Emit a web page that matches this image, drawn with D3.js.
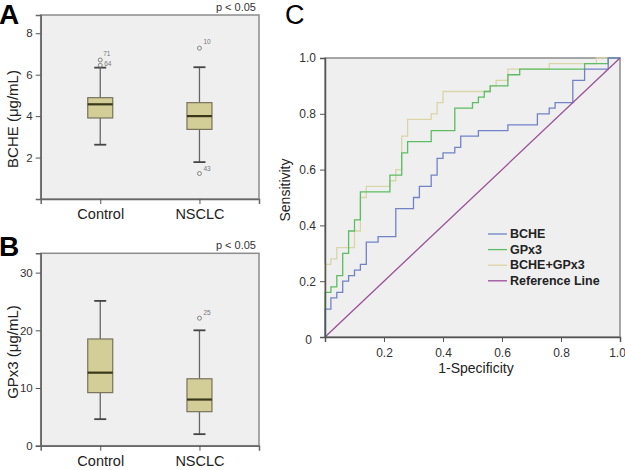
<!DOCTYPE html>
<html><head><meta charset="utf-8">
<script src="https://cdn.jsdelivr.net/npm/d3@7"></script>
<style>body{margin:0;background:#fff} svg{display:block;font-family:"Liberation Sans",Arial,sans-serif}</style>
</head><body><svg id="c" width="625" height="470"></svg>
<script>
// ---------- data ----------
const groups = ["Control", "NSCLC"];
// box stats: [lower whisker, Q1, median, Q3, upper whisker]
const bcheControl = [2.62, 3.91, 4.57, 4.89, 6.34];
const bcheNSCLC   = [1.78, 3.36, 4.00, 4.65, 6.36];
const bcheOutliers = [["Control", 6.71, "71"], ["Control", 6.45, "64"], ["NSCLC", 7.28, "10"], ["NSCLC", 1.23, "43"]];
const bcheTicks = [2, 4, 6, 8];

const gpx3Control = [4.6, 9.2, 12.66, 18.5, 25.1];
const gpx3NSCLC   = [2.0, 5.9, 8.0, 11.6, 20.0];
const gpx3Outliers = [["NSCLC", 22.1, "25"]];
const gpx3Ticks = [0, 10, 20, 30];

// ROC step points (1-specificity, sensitivity)
const rocBcheX = [0, 0, 0.02, 0.04, 0.06, 0.08, 0.10, 0.12, 0.14, 0.18, 0.24, 0.30, 0.32, 0.36, 0.38, 0.40, 0.44, 0.46, 0.52, 0.62, 0.72, 0.76, 0.78, 0.84, 0.88, 0.96, 1];
const rocBcheY = [0, 0.10, 0.14, 0.16, 0.20, 0.22, 0.24, 0.26, 0.34, 0.36, 0.46, 0.50, 0.54, 0.58, 0.64, 0.66, 0.68, 0.72, 0.74, 0.76, 0.80, 0.82, 0.84, 0.92, 0.96, 1.0, 1];
const rocGpxX = [0, 0, 0.02, 0.04, 0.06, 0.08, 0.10, 0.12, 0.22, 0.26, 0.28, 0.36, 0.44, 0.50, 0.52, 0.54, 0.56, 0.62, 0.66, 0.88, 0.96, 1];
const rocGpxY = [0, 0.16, 0.18, 0.22, 0.30, 0.38, 0.42, 0.52, 0.58, 0.66, 0.70, 0.74, 0.82, 0.84, 0.86, 0.88, 0.90, 0.94, 0.96, 0.98, 1.0, 1];
const rocBothX = [0, 0, 0.02, 0.04, 0.10, 0.12, 0.14, 0.22, 0.24, 0.26, 0.28, 0.36, 0.38, 0.40, 0.56, 0.58, 0.62, 0.76, 0.92, 1];
const rocBothY = [0, 0.26, 0.28, 0.32, 0.38, 0.50, 0.54, 0.56, 0.60, 0.72, 0.78, 0.80, 0.84, 0.88, 0.90, 0.92, 0.96, 0.98, 1.0, 1];
const refX = [0, 1];
const refY = [0, 1];
const rocTicks = [0, 0.2, 0.4, 0.6, 0.8, 1.0];
const legendLabels = ["BCHE", "GPx3", "BCHE+GPx3", "Reference Line"];
const legendColors = ["#7282c8", "#5cbd62", "#d9d5a6", "#9a4f98"];

// ---------- drawing ----------
const svg = d3.select("#c");
const BG = "#efefef", FRAME = "#8c8c8c";

function boxPanel(p) {
  const g = svg.append("g");
  const x = d3.scalePoint().domain(groups).range([p.x0, p.x1]).padding(0.6);
  const y = d3.scaleLinear().domain([0, p.ymax]).range([p.y1, p.y0]);
  g.append("rect").attr("x", p.x0).attr("y", p.y0).attr("width", p.x1 - p.x0).attr("height", p.y1 - p.y0)
    .attr("fill", BG).attr("stroke", FRAME).attr("stroke-width", 1.5);
  const ya = g.append("g").attr("transform", `translate(${p.x0},0)`)
    .call(d3.axisLeft(y).tickValues(p.ticks).tickSize(5).tickPadding(3).tickFormat(d3.format("d")));
  const xa = g.append("g").attr("transform", `translate(0,${p.y1})`)
    .call(d3.axisBottom(x).tickSize(5).tickPadding(5));
  [ya, xa].forEach(a => {
    a.select(".domain").attr("stroke", "#666").attr("stroke-width", 1.5);
    a.selectAll(".tick line").attr("stroke", "#555");
  });
  ya.selectAll("text").attr("font-size", 11.5).attr("fill", "#333").attr("font-family", "Liberation Sans, Arial");
  xa.selectAll("text").attr("font-size", 14.5).attr("fill", "#222").attr("font-family", "Liberation Sans, Arial");

  const bw = 25, cw = 12;
  p.stats.forEach((s, i) => {
    const cx = x(groups[i]);
    g.append("line").attr("x1", cx).attr("x2", cx).attr("y1", y(s[0])).attr("y2", y(s[1])).attr("stroke", "#666").attr("stroke-width", 1.3);
    g.append("line").attr("x1", cx).attr("x2", cx).attr("y1", y(s[3])).attr("y2", y(s[4])).attr("stroke", "#666").attr("stroke-width", 1.3);
    [s[0], s[4]].forEach(v => g.append("line").attr("x1", cx - cw / 2).attr("x2", cx + cw / 2).attr("y1", y(v)).attr("y2", y(v)).attr("stroke", "#444").attr("stroke-width", 1.8));
    g.append("rect").attr("x", cx - bw / 2).attr("y", y(s[3])).attr("width", bw).attr("height", y(s[1]) - y(s[3]))
      .attr("fill", "#d3cd98").attr("stroke", "#77745c").attr("stroke-width", 1.2);
    g.append("line").attr("x1", cx - bw / 2).attr("x2", cx + bw / 2).attr("y1", y(s[2])).attr("y2", y(s[2])).attr("stroke", "#3a3818").attr("stroke-width", 2.2);
  });
  p.outliers.forEach((o, k) => {
    const cx = x(o[0]), cy = y(o[1]);
    g.append("circle").attr("cx", cx).attr("cy", cy).attr("r", 2).attr("fill", "none").attr("stroke", "#777").attr("stroke-width", 0.9);
    const dy = (p.labelShift && p.labelShift[k]) || [4, -3];
    g.append("text").attr("x", cx + dy[0]).attr("y", cy + dy[1]).attr("font-size", 6.5).attr("fill", "#777").text(o[2]);
  });
  g.append("text").attr("x", 12).attr("y", p.labelY).attr("transform", `rotate(-90,12,${p.labelY})`)
    .attr("text-anchor", "middle").attr("dominant-baseline", "central").attr("font-size", 15).attr("fill", "#222").text(p.label);
  g.append("text").attr("x", 256).attr("y", p.pY).attr("text-anchor", "end").attr("font-size", 11).attr("fill", "#333").text("p < 0.05");
  g.append("text").attr("x", -1).attr("y", p.letterY).attr("font-size", 28).attr("font-weight", "bold").attr("fill", "#000").text(p.letter);
}

boxPanel({ x0: 40.7, x1: 259, y0: 15, y1: 199, ymax: 8.88, ticks: bcheTicks,
  stats: [bcheControl, bcheNSCLC], outliers: bcheOutliers,
  labelShift: [[3, -4], [4, 1], [4, -4], [4, -3]],
  label: "BCHE (μg/mL)", labelY: 119, pY: 11, letter: "A", letterY: 24 });
boxPanel({ x0: 40.7, x1: 259, y0: 253.3, y1: 445.7, ymax: 33.35, ticks: gpx3Ticks,
  stats: [gpx3Control, gpx3NSCLC], outliers: gpx3Outliers,
  label: "GPx3 (μg/mL)", labelY: 352, pY: 249, letter: "B", letterY: 256 });

// ---- panel C ----
(function () {
  const p = { x0: 325, x1: 620, y0: 58, y1: 337 };
  const g = svg.append("g");
  const x = d3.scaleLinear().domain([0, 1]).range([p.x0, p.x1]);
  const y = d3.scaleLinear().domain([0, 1]).range([p.y1, p.y0]);
  g.append("rect").attr("x", p.x0).attr("y", p.y0).attr("width", p.x1 - p.x0).attr("height", p.y1 - p.y0)
    .attr("fill", BG).attr("stroke", FRAME).attr("stroke-width", 1.5);

  const line = d3.line().x(d => x(d[0])).y(d => y(d[1]));
  const step = d3.line().x(d => x(d[0])).y(d => y(d[1])).curve(d3.curveStepAfter);
  const series = [
    [rocBothX, rocBothY, legendColors[2], step],
    [rocGpxX, rocGpxY, legendColors[1], step],
    [rocBcheX, rocBcheY, legendColors[0], step],
    [refX, refY, legendColors[3], line]
  ];
  series.forEach(s => {
    const pts = s[0].map((v, i) => [v, s[1][i]]);
    g.append("path").attr("d", s[3](pts)).attr("fill", "none").attr("stroke", s[2]).attr("stroke-width", 1.3);
  });

  const ya = g.append("g").attr("transform", `translate(${p.x0},0)`)
    .call(d3.axisLeft(y).tickValues(rocTicks).tickSize(5).tickPadding(4).tickFormat(d => d === 0 ? "" : d3.format(".1f")(d)));
  const xa = g.append("g").attr("transform", `translate(0,${p.y1})`)
    .call(d3.axisBottom(x).tickValues(rocTicks).tickSize(5).tickPadding(6).tickFormat(d => d === 0 ? "0" : d3.format(".1f")(d)));
  [ya, xa].forEach(a => {
    a.select(".domain").attr("stroke", "#555").attr("stroke-width", 1.5);
    a.selectAll(".tick line").attr("stroke", "#555");
    a.selectAll("text").attr("font-size", 12).attr("fill", "#333").attr("font-family", "Liberation Sans, Arial");
  });
  xa.selectAll(".tick text").filter(d => d === 0).attr("dx", -17).attr("dy", -4);
  xa.selectAll(".tick text").filter(d => d === 1).attr("dx", -3);

  g.append("text").attr("x", 285).attr("y", 190).attr("transform", "rotate(-90,285,190)")
    .attr("text-anchor", "middle").attr("dominant-baseline", "central").attr("font-size", 14).attr("fill", "#222").text("Sensitivity");
  g.append("text").attr("x", 476).attr("y", 373).attr("text-anchor", "middle").attr("font-size", 14).attr("fill", "#222").text("1-Specificity");

  const lg = g.append("g");
  legendLabels.forEach((t, i) => {
    const ly = 234 + i * 15.6;
    lg.append("line").attr("x1", 488).attr("x2", 507).attr("y1", ly).attr("y2", ly).attr("stroke", legendColors[i]).attr("stroke-width", 1.3);
    lg.append("text").attr("x", 510).attr("y", ly).attr("dominant-baseline", "central").attr("font-size", 12.5).attr("font-weight", "bold").attr("fill", "#222").text(t);
  });
  g.append("text").attr("x", 285).attr("y", 24).attr("font-size", 27).attr("fill", "#000").text("C");
})();
</script></body></html>
